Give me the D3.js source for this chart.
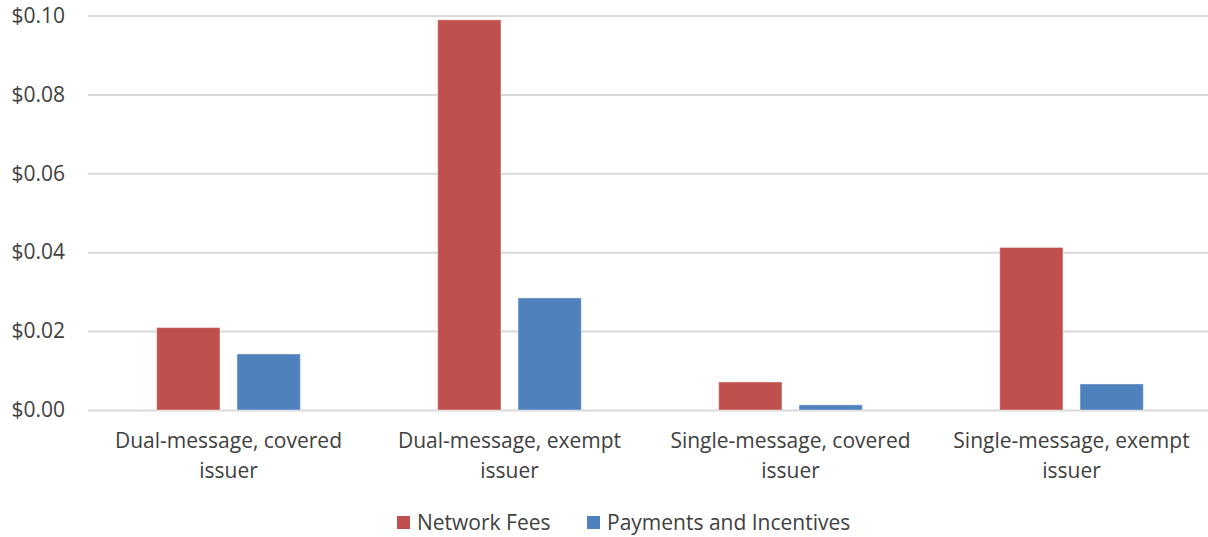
<!DOCTYPE html>
<html>
<head>
<meta charset="utf-8">
<script src="https://cdn.jsdelivr.net/npm/d3@7"></script>
<style>
  body { margin: 0; background: #fff; }
  text { font-family: "Open Sans", sans-serif; fill: #404040; }
</style>
</head>
<body>
<svg id="svg"></svg>
<script>
const width = 1208, height = 537;

const categories = ["Dual-message, covered issuer", "Dual-message, exempt issuer",
  "Single-message, covered issuer", "Single-message, exempt issuer"];
const seriesNames = ["Network Fees", "Payments and Incentives"];
const networkFees = [0.0209, 0.0989, 0.0071, 0.0412];
const payments = [0.0142, 0.0284, 0.0013, 0.0066];
const yTicks = [0, 0.02, 0.04, 0.06, 0.08, 0.10];
const colors = ["#C0504D", "#4F81BD"];

const margin = { top: 15.5, right: 0, bottom: 127, left: 88 };
const fs = "21px";

const svg = d3.select("#svg").attr("width", width).attr("height", height);

// groups are spaced 281px apart; the gridlines stop at the window edge
const x0 = d3.scaleBand().domain(categories)
  .range([margin.left, margin.left + 4 * 281]).padding(0);
const groupW = 143.6;
const x1 = d3.scaleBand().domain(seriesNames)
  .range([(x0.bandwidth() - groupW) / 2, (x0.bandwidth() + groupW) / 2])
  .paddingInner(0.2125);
const y = d3.scaleLinear().domain([0, 0.10]).range([height - margin.bottom, margin.top]);

// gridlines + y labels
const yAxis = svg.append("g")
  .attr("transform", `translate(${margin.left},0)`)
  .call(d3.axisLeft(y).tickValues(yTicks)
    .tickSize(-(width - margin.left - margin.right))
    .tickPadding(23)
    .tickFormat(d => "$" + d.toFixed(2)));
yAxis.select(".domain").remove();
yAxis.selectAll(".tick line").attr("stroke", "#d9d9d9").attr("stroke-width", 2);
yAxis.selectAll(".tick text").style("font-size", fs);

const data = categories.map((c, i) => ({ cat: c, vals: [networkFees[i], payments[i]] }));

svg.append("g").selectAll("g")
  .data(data)
  .join("g")
  .attr("transform", d => `translate(${x0(d.cat)},0)`)
  .selectAll("rect")
  .data(d => d.vals.map((v, j) => ({ key: seriesNames[j], v, j })))
  .join("rect")
  .attr("x", d => x1(d.key))
  .attr("width", x1.bandwidth())
  .attr("y", d => y(d.v))
  .attr("height", d => y(0) - y(d.v))
  .attr("fill", d => colors[d.j])
  .attr("stroke", "rgba(255,255,255,0.4)")
  .attr("stroke-width", 1);

// category labels (two lines)
const xl = svg.append("g");
categories.forEach(c => {
  const idx = c.lastIndexOf(" ");
  const cx = x0(c) + x0.bandwidth() / 2;
  const t = xl.append("text")
    .attr("text-anchor", "middle")
    .style("font-size", fs);
  t.append("tspan").attr("x", cx).attr("y", 448).text(c.slice(0, idx));
  t.append("tspan").attr("x", cx).attr("y", 478).text(c.slice(idx + 1));
});

// legend
const legendX = [397, 587];
const lg = svg.append("g");
seriesNames.forEach((s, i) => {
  lg.append("rect").attr("x", legendX[i]).attr("y", 516).attr("width", 13).attr("height", 13)
    .attr("fill", colors[i]);
  lg.append("text").attr("x", legendX[i] + 20).attr("y", 530)
    .style("font-size", fs).text(s);
});
</script>
</body>
</html>
